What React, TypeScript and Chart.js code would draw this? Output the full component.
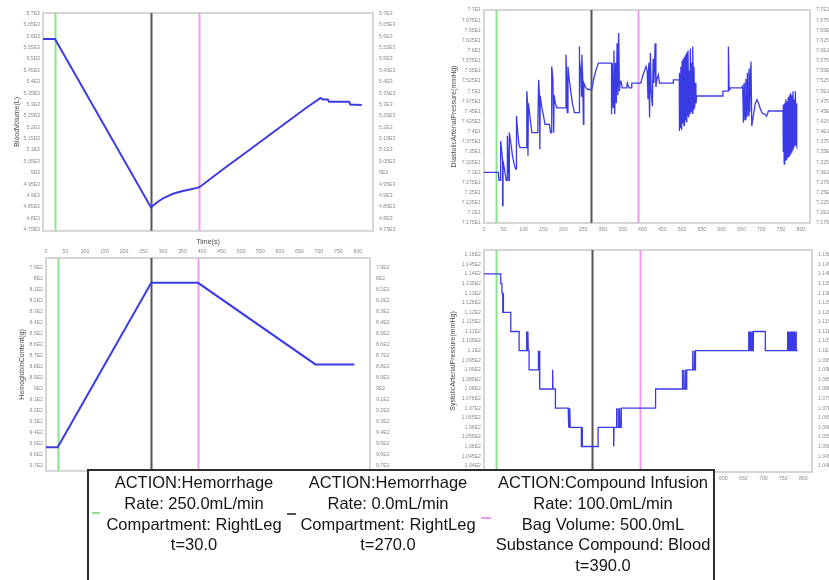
import React, { useEffect, useRef } from 'react';
import { Chart, registerables } from 'chart.js';
Chart.register(...registerables);

// ---------- data ----------
const EVENT_TIMES = [30, 270, 390];
const EVENT_COLORS = ['#8ae28a', '#555555', '#f29af2'];

const TIME_TICKS = [0, 50, 100, 150, 200, 250, 300, 350, 400, 450, 500, 550, 600, 650, 700, 750, 800];
const BV_TICKS = [4750, 4800, 4850, 4900, 4950, 5000, 5050, 5100, 5150, 5200, 5250, 5300, 5350, 5400, 5450, 5500, 5550, 5600, 5650, 5700];
const DIA_TICKS = [71.75, 72, 72.25, 72.5, 72.75, 73, 73.25, 73.5, 73.75, 74, 74.25, 74.5, 74.75, 75, 75.25, 75.5, 75.75, 76, 76.25, 76.5, 76.75, 77];
const SYS_TICKS = [104, 104.5, 105, 105.5, 106, 106.5, 107, 107.5, 108, 108.5, 109, 109.5, 110, 110.5, 111, 111.5, 112, 112.5, 113, 113.5, 114, 114.5, 115];
const HB_TICKS = [790, 800, 810, 820, 830, 840, 850, 860, 870, 880, 890, 900, 910, 920, 930, 940, 950, 960, 970];

const BV_POINTS: [number, number][] = [
  [0, 5588], [30, 5588], [270, 4848], [276, 4858], [282, 4866], [290, 4876], [300, 4888], [312, 4898],
  [325, 4908], [340, 4916], [355, 4922], [370, 4928], [385, 4934], [392, 4938], [450, 5016], [520, 5106],
  [600, 5210], [660, 5288], [694, 5329], [700, 5322], [712, 5322], [715, 5312], [765, 5312], [768, 5300], [797, 5298],
];

const HB_POINTS: [number, number][] = [
  [0, 953], [30, 953], [270, 804], [390, 804], [691, 878], [791, 878],
];

const DIA_POINTS: [number, number][] = [
  [0, 73.0], [36, 73.0], [38, 72.8], [42, 72.8], [42, 73.77], [45, 73.5], [47, 73.3], [47, 72.18], [48, 72.18],
  [48, 73.28], [53, 73.0], [56, 72.8], [59, 72.8], [59, 73.9], [61, 73.4], [63, 72.8], [64, 72.8], [64, 73.98],
  [68, 73.7], [72, 73.4], [76, 73.2], [80, 73.08], [82, 73.08], [82, 74.39], [85, 74.0], [88, 73.7], [91, 73.61],
  [108, 73.61], [108, 75.0], [110, 74.71], [111, 73.41], [112, 74.7], [114, 74.55], [118, 74.2], [121, 73.98],
  [136, 73.98], [136, 74.2], [138, 75.28], [140, 74.9], [141, 73.57], [142, 74.88], [146, 74.6], [150, 74.4],
  [154, 74.18], [165, 74.18], [168, 73.98], [171, 73.98], [171, 75.61], [174, 75.3], [176, 73.98], [177, 74.9],
  [180, 74.7], [184, 74.59], [207, 74.59], [207, 75.9], [209, 75.2], [210, 74.47], [212, 75.6], [215, 75.3],
  [219, 75.0], [223, 74.7], [226, 74.59], [228, 74.47], [240, 74.47], [240, 76.1], [242, 75.77], [244, 75.5],
  [246, 74.88], [247, 75.9], [249, 75.4], [251, 74.18], [252, 75.2], [256, 75.1], [262, 75.04], [272, 75.04],
  [277, 75.3], [282, 75.5], [289, 75.69], [322, 75.69], [322, 74.43], [324, 75.69], [326, 74.6], [328, 76.0],
  [330, 74.43], [332, 75.7], [334, 74.7], [336, 76.18], [338, 74.9], [340, 76.43], [342, 75.0], [344, 75.24],
  [346, 75.24], [349, 75.08], [360, 75.08], [362, 75.2], [366, 75.08], [373, 75.08], [373, 75.2], [396, 75.2],
  [400, 75.35], [405, 75.5], [409, 75.61], [412, 75.5], [414, 74.8], [416, 75.7], [418, 74.35], [420, 75.94],
  [422, 75.0], [425, 74.63], [427, 75.8], [429, 75.2], [432, 76.18], [434, 75.1], [436, 75.28], [440, 75.4],
  [443, 75.2], [478, 75.2], [478, 75.28], [493, 75.28],
  [493, 74.02], [494, 75.45], [496, 74.1], [497, 75.6], [499, 74.05], [500, 75.75], [502, 74.2], [503, 75.8],
  [505, 74.15], [506, 75.85], [508, 74.3], [509, 75.9], [511, 74.25], [512, 75.95], [514, 74.4], [515, 76.0],
  [517, 74.35], [518, 75.5], [520, 74.43], [521, 76.05], [523, 74.5], [524, 75.7], [526, 74.45], [527, 76.1],
  [529, 74.55], [530, 75.6], [532, 74.6], [533, 75.2], [535, 74.7], [537, 74.88],
  [603, 74.88], [603, 75.0], [617, 75.0], [617, 76.1], [619, 75.04], [621, 75.04], [621, 75.08], [651, 75.08],
  [653, 75.12],
  [655, 74.22], [657, 75.2], [659, 74.3], [661, 75.3], [663, 74.35], [665, 75.45], [667, 74.4], [669, 75.55],
  [671, 74.5], [673, 75.6], [674, 75.73], [676, 74.14],
  [680, 74.4], [685, 74.7], [689, 74.79], [693, 74.7], [698, 74.55], [703, 74.45], [710, 74.43], [713, 74.38],
  [716, 74.45], [718, 74.51], [755, 74.51],
  [755, 73.5], [756, 74.67], [758, 73.2], [759, 74.7], [761, 73.3], [762, 74.8], [764, 73.3], [765, 74.75],
  [767, 73.35], [768, 74.85], [770, 73.4], [771, 74.9], [773, 73.45], [774, 74.95], [776, 73.5], [777, 74.9],
  [779, 73.55], [780, 75.0], [782, 73.6], [783, 74.8], [785, 73.65], [786, 75.0], [788, 73.7], [789, 74.7], [790, 73.65],
];

const SYS_POINTS: [number, number][] = [
  [0, 114], [42, 114], [42, 113.5], [45, 113.5], [45, 113], [47, 113], [47, 112], [48, 112], [48, 113], [49, 113],
  [49, 112], [67, 112], [67, 111], [88, 111], [88, 110], [107, 110], [107, 111], [108, 110], [110, 110], [110, 111],
  [111, 110], [113, 110], [113, 109], [136, 109], [136, 110], [137, 109], [139, 109], [139, 110], [140, 109],
  [140, 108], [172, 108], [172, 109], [173, 108], [179, 108], [179, 107], [211, 107], [211, 106], [213, 106],
  [213, 107], [214, 106], [215, 106], [215, 107], [216, 106], [244, 106], [244, 105], [246, 105], [246, 106],
  [247, 105], [286, 105], [286, 106], [325, 106], [325, 105], [326, 106], [332, 106], [332, 107], [333, 106],
  [336, 106], [336, 107], [337, 106], [340, 106], [340, 107], [341, 106], [344, 106], [344, 107], [430, 107],
  [430, 108], [497, 108], [497, 109], [498, 108], [501, 108], [501, 109], [502, 108], [505, 108], [505, 109],
  [506, 108], [508, 108], [508, 109], [523, 109], [523, 110], [524, 109], [527, 109], [527, 110], [528, 109],
  [530, 109], [530, 110], [663, 110], [663, 111], [664, 110], [666, 110], [666, 111], [667, 110], [669, 110],
  [669, 111], [670, 110], [672, 110], [672, 111], [673, 110], [675, 110], [675, 111], [705, 111], [705, 110],
  [761, 110], [761, 111], [762, 110], [764, 110], [764, 111], [765, 110], [767, 110], [767, 111], [768, 110],
  [770, 110], [770, 111], [771, 110], [773, 110], [773, 111], [774, 110], [776, 110], [776, 111], [777, 110],
  [779, 110], [779, 111], [780, 110], [782, 110], [782, 111], [783, 110], [786, 110],
];

const LEGEND_ENTRIES: string[][] = [
  ['ACTION:Hemorrhage', 'Rate: 250.0mL/min', 'Compartment: RightLeg', 't=30.0'],
  ['ACTION:Hemorrhage', 'Rate: 0.0mL/min', 'Compartment: RightLeg', 't=270.0'],
  ['ACTION:Compound Infusion', 'Rate: 100.0mL/min', 'Bag Volume: 500.0mL', 'Substance Compound: Blood', 't=390.0'],
];

// ---------- helpers ----------
function fmtE(v: number): string {
  return v.toExponential().replace('e+', 'E').replace('e-', 'E-');
}

const FONT = 'Arial, "Liberation Sans", sans-serif';

type Panel = {
  left: number; top: number; width: number; height: number;
  points: [number, number][];
  xMax: number; yMin: number; yMax: number; yTicks: number[]; reverse?: boolean;
  yTitle: string; leftW: number; rightW: number; padTop: number; padBottom: number;
  xMode: 'none' | 'top' | 'bottom'; xH: number; titlePad: number; lw: number;
};

const panelPlugin = {
  id: 'panelDecor',
  beforeDatasetsDraw(chart: any) {
    const { ctx, chartArea: a, scales } = chart;
    ctx.save();
    ctx.strokeStyle = '#d5d5d5';
    ctx.lineWidth = 2;
    ctx.strokeRect(a.left, a.top, a.right - a.left, a.bottom - a.top);
    EVENT_TIMES.forEach((t, i) => {
      const x = Math.round(scales.x.getPixelForValue(t)) + 0.5;
      ctx.strokeStyle = EVENT_COLORS[i];
      ctx.lineWidth = 2;
      ctx.beginPath();
      ctx.moveTo(x, a.top);
      ctx.lineTo(x, a.bottom);
      ctx.stroke();
    });
    ctx.restore();
  },
};

function buildConfig(p: Panel): any {
  const tickFont = { family: FONT, size: 5.2 };
  const tickColor = '#8c8c8c';
  const yAxis = (pos: 'left' | 'right') => ({
    type: 'linear',
    position: pos,
    min: p.yMin,
    max: p.yMax,
    reverse: !!p.reverse,
    afterBuildTicks: (s: any) => { s.ticks = p.yTicks.map((v) => ({ value: v })); },
    afterFit: (s: any) => { s.width = pos === 'left' ? p.leftW : p.rightW; },
    grid: { display: false, drawTicks: false },
    border: { display: false },
    ticks: {
      font: tickFont, color: tickColor, padding: pos === 'left' ? 3 : 6, autoSkip: false,
      callback: (v: any) => fmtE(Number(v)),
    },
    title: pos === 'left'
      ? { display: true, text: p.yTitle, color: '#4a4a4a', font: { family: FONT, size: 7 }, padding: { top: p.titlePad, bottom: 0 } }
      : { display: false },
  });
  return {
    type: 'scatter',
    data: {
      datasets: [{
        data: p.points.map(([x, y]) => ({ x, y })),
        showLine: true,
        borderColor: '#3b3be6',
        backgroundColor: '#3b3be6',
        borderWidth: p.lw,
        pointRadius: 0,
        tension: 0,
        fill: false,
      }],
    },
    options: {
      responsive: false,
      animation: false,
      events: [],
      layout: { padding: { left: 0, right: 0, top: p.padTop, bottom: p.padBottom } },
      plugins: { legend: { display: false }, tooltip: { enabled: false } },
      scales: {
        x: {
          type: 'linear',
          position: p.xMode === 'top' ? 'top' : 'bottom',
          display: p.xMode !== 'none',
          min: 0,
          max: p.xMax,
          afterBuildTicks: (s: any) => { s.ticks = TIME_TICKS.map((v) => ({ value: v })); },
          afterFit: (s: any) => { s.height = p.xH; },
          grid: { display: false, drawTicks: false },
          border: { display: false },
          ticks: { font: tickFont, color: tickColor, padding: 3, autoSkip: false, maxRotation: 0, callback: (v: any) => String(v) },
          title: p.xMode === 'top'
            ? { display: true, text: 'Time(s)', color: '#4a4a4a', font: { family: FONT, size: 7 }, padding: { top: 8, bottom: 0 } }
            : { display: false },
        },
        y: yAxis('left'),
        y2: yAxis('right'),
      },
    },
    plugins: [panelPlugin],
  };
}

const PANELS: Panel[] = [
  { left: 0, top: 0, width: 410, height: 240, points: BV_POINTS, xMax: 825, yMin: 4745, yMax: 5702, yTicks: BV_TICKS,
    yTitle: 'BloodVolume(L)', leftW: 43, rightW: 37, padTop: 13, padBottom: 5, xMode: 'none', xH: 0, titlePad: 13, lw: 2 },
  { left: 0, top: 230, width: 410, height: 250, points: HB_POINTS, xMax: 831, yMin: 781.5, yMax: 974.5, yTicks: HB_TICKS, reverse: true,
    yTitle: 'HemoglobinContent(g)', leftW: 46, rightW: 40, padTop: 0, padBottom: 9, xMode: 'top', xH: 28, titlePad: 18, lw: 2 },
  { left: 420, top: 0, width: 409, height: 240, points: DIA_POINTS, xMax: 823, yMin: 71.75, yMax: 77, yTicks: DIA_TICKS,
    yTitle: 'DiastolicArterialPressure(mmHg)', leftW: 64, rightW: 19, padTop: 10, padBottom: 0, xMode: 'bottom', xH: 17, titlePad: 30, lw: 1.3 },
  { left: 420, top: 240, width: 409, height: 250, points: SYS_POINTS, xMax: 822, yMin: 103.67, yMax: 115.25, yTicks: SYS_TICKS,
    yTitle: 'SystolicArterialPressure(mmHg)', leftW: 64, rightW: 17, padTop: 10, padBottom: 0, xMode: 'bottom', xH: 18, titlePad: 29, lw: 1.3 },
];

function PanelChart({ p }: { p: Panel }) {
  const ref = useRef<HTMLCanvasElement | null>(null);
  useEffect(() => {
    if (!ref.current) return;
    const chart = new Chart(ref.current, buildConfig(p));
    return () => chart.destroy();
  }, [p]);
  return (
    <canvas ref={ref} width={p.width} height={p.height}
      style={{ position: 'absolute', left: p.left, top: p.top, width: p.width, height: p.height }} />
  );
}

const LEGEND_COL_CENTERS = [194, 388, 603];
const LEGEND_MARKERS = [
  { left: 92, top: 512, width: 8 },
  { left: 287, top: 513, width: 9 },
  { left: 481, top: 517, width: 10 },
];

export default function App() {
  const boxLeft = 87, boxTop = 469;
  return (
    <div style={{ position: 'absolute', left: 0, top: 0, width: 829, height: 580, overflow: 'hidden', background: '#fff' }}>
      {PANELS.map((p, i) => <PanelChart key={i} p={p} />)}
      <div style={{
        position: 'absolute', left: boxLeft, top: boxTop, width: 628, height: 140,
        border: '2px solid #2e2e2e', background: '#fff', boxSizing: 'border-box',
        fontFamily: FONT, fontSize: 16.5, color: '#151515',
      }}>
        {LEGEND_ENTRIES.map((lines, i) => (
          <div key={i} style={{
            position: 'absolute', left: LEGEND_COL_CENTERS[i] - boxLeft - 2 - 150, top: 1, width: 300,
            textAlign: 'center', lineHeight: '20.8px', whiteSpace: 'nowrap',
          }}>
            {lines.map((l, j) => <div key={j}>{l}</div>)}
          </div>
        ))}
        {LEGEND_MARKERS.map((m, i) => (
          <div key={i} style={{
            position: 'absolute', left: m.left - boxLeft - 2, top: m.top - boxTop - 2, width: m.width, height: 2,
            background: EVENT_COLORS[i],
          }} />
        ))}
      </div>
    </div>
  );
}
